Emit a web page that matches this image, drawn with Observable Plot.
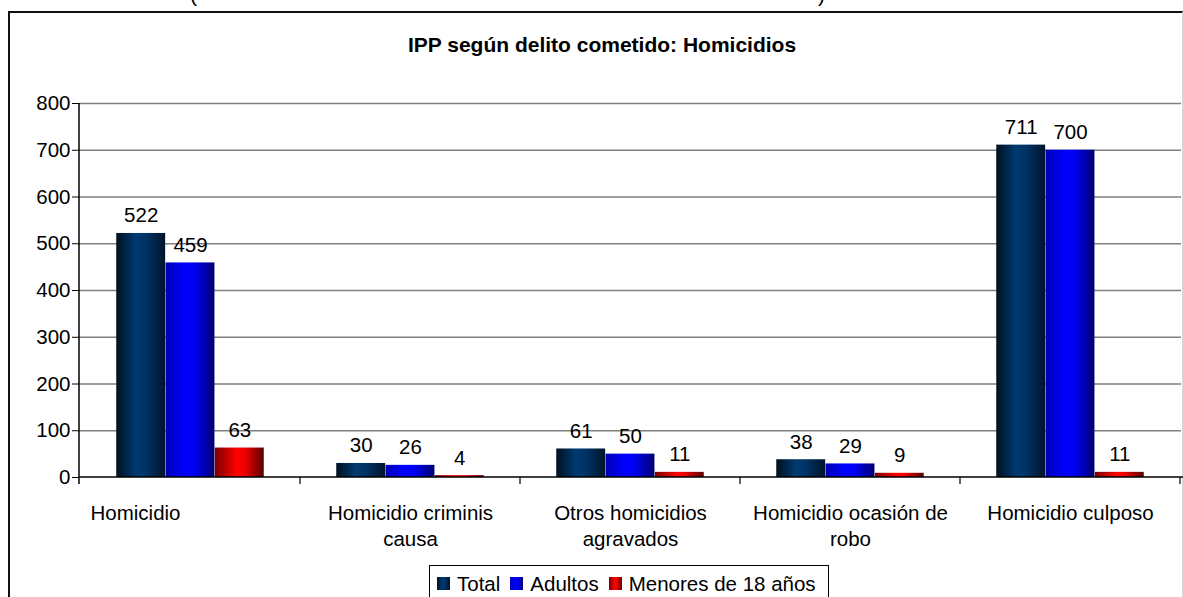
<!DOCTYPE html>
<html>
<head>
<meta charset="utf-8">
<script src="https://cdn.jsdelivr.net/npm/d3@7"></script>
<script src="https://cdn.jsdelivr.net/npm/@observablehq/plot@0.6"></script>
<style>
  html, body { margin: 0; padding: 0; background: #fff; overflow: hidden; }
  #wrap { position: relative; width: 1183px; height: 597px; overflow: hidden;
          font-family: "Liberation Sans", Arial, sans-serif; color: #000; }
  #box { position: absolute; left: 8px; top: 11px; width: 1172px; height: 620px;
         border-left: 2px solid #111; border-top: 2px solid #111; border-right: 1px solid #d8d8d8; }
  .paren { position: absolute; top: -16px; font-size: 21px; line-height: 21px; }
  #title { position: absolute; left: 0; width: 1204px; top: 34px; text-align: center;
           font-size: 21px; line-height: 21px; font-weight: bold; }
  #chart { position: absolute; left: 0; top: 0; }
  #legend { position: absolute; left: 429px; top: 565px; width: 400px; height: 40px;
            border: 1px solid #000; background: #fff; box-sizing: border-box;
            padding: 7px 0 0 7px; font-size: 20.5px; line-height: 21px; white-space: nowrap; }
  #legend .item { display: inline-block; margin-right: 10px; }
  #legend .sw { display: inline-block; width: 13px; height: 13px; margin-right: 7px; vertical-align: 1px; }
</style>
</head>
<body>
<div id="wrap">
  <div id="box"></div>
  <span class="paren" style="left:190px">(</span>
  <span class="paren" style="left:818px">)</span>
  <div id="title"></div>
  <div id="chart"></div>
  <div id="legend"></div>
</div>
<script>
// ---- data ----
const categories = ["Homicidio", "Homicidio criminis causa", "Otros homicidios agravados", "Homicidio ocasión de robo", "Homicidio culposo"];
const categoryLabels = ["Homicidio", "Homicidio criminis\ncausa", "Otros homicidios\nagravados", "Homicidio ocasión de\nrobo", "Homicidio culposo"];
const seriesNames = ["Total", "Adultos", "Menores de 18 años"];
const totalValues = [522, 30, 61, 38, 711];
const adultosValues = [459, 26, 50, 29, 700];
const menoresValues = [63, 4, 11, 9, 11];
const yTicks = [0, 100, 200, 300, 400, 500, 600, 700, 800];
const titleText = "IPP según delito cometido: Homicidios";

// ---- styling ----
const gradients = {
  "Total": ["g-total", [[0, "#00101f"], [0.4, "#003a70"], [0.6, "#003366"], [1, "#00142a"]]],
  "Adultos": ["g-adultos", [[0, "#0000b8"], [0.4, "#0000ff"], [0.6, "#0000f0"], [1, "#000070"]]],
  "Menores de 18 años": ["g-menores", [[0, "#7a0000"], [0.45, "#ff0000"], [0.6, "#f00000"], [1, "#5a0000"]]]
};
const font = "'Liberation Sans', Arial, sans-serif";

const rows = categories.flatMap((c, i) => [
  {cat: c, serie: seriesNames[0], value: totalValues[i]},
  {cat: c, serie: seriesNames[1], value: adultosValues[i]},
  {cat: c, serie: seriesNames[2], value: menoresValues[i]}
]);

const W = 1183, H = 597;
const mL = 79, mR = 2, mT = 103, mB = 120;
const band = (W - mL - mR) / categories.length;
const barW = 49.3;
const inset = (band - barW) / 2;
const offsets = [-barW, 0, barW];

function defsMark() {
  const defs = d3.create("svg:defs");
  for (const s of seriesNames) {
    const [id, stops] = gradients[s];
    const lg = defs.append("linearGradient").attr("id", id).attr("x1", 0).attr("x2", 1).attr("y1", 0).attr("y2", 0);
    for (const [o, c] of stops) lg.append("stop").attr("offset", o).attr("stop-color", c);
  }
  return defs.node();
}

function axisLines(index, scales) {
  const g = d3.create("svg:g").attr("stroke", "#000").attr("fill", "none");
  const x = scales.x, y = scales.y;
  const bw = x.bandwidth();
  const y0 = y(0);
  // y axis line
  g.append("line").attr("x1", mL).attr("x2", mL).attr("y1", y(800)).attr("y2", y0 + 7).attr("stroke-width", 1.5);
  // baseline
  g.append("line").attr("x1", mL).attr("x2", W).attr("y1", y0).attr("y2", y0).attr("stroke-width", 1.5);
  // category boundary ticks
  for (const c of categories) {
    const xx = x(c) + bw;
    g.append("line").attr("x1", xx).attr("x2", xx).attr("y1", y0).attr("y2", y0 + 7).attr("stroke-width", 1.2);
  }
  return g.node();
}

const marks = [defsMark];
marks.push(Plot.gridY(yTicks.filter(d => d > 0), {stroke: "#808080", strokeOpacity: 1, strokeWidth: 1.3}));
seriesNames.forEach((s, k) => {
  const data = rows.filter(r => r.serie === s);
  marks.push(Plot.barY(data, {x: "cat", y: "value", fill: `url(#${gradients[s][0]})`,
    insetLeft: inset, insetRight: inset, dx: offsets[k]}));
  marks.push(Plot.text(data, {x: "cat", y: "value", text: d => String(d.value), dx: offsets[k], dy: -11,
    lineAnchor: "bottom", fontSize: 20.5, fill: "#000"}));
});
marks.push(axisLines);
marks.push(Plot.axisY({ticks: yTicks, tickSize: 7, tickPadding: 2, fontSize: 20.5, label: null, stroke: "#000"}));
// category labels
marks.push(Plot.text(categories.slice(0, 1), {x: d => d, frameAnchor: "bottom",
  text: (d) => categoryLabels[categories.indexOf(d)], dy: 24, dx: -55, lineAnchor: "top",
  lineHeight: 1.27, fontSize: 20.5, fill: "#000"}));
marks.push(Plot.text(categories.slice(1), {x: d => d, frameAnchor: "bottom",
  text: (d) => categoryLabels[categories.indexOf(d)], dy: 24, lineAnchor: "top",
  lineHeight: 1.27, fontSize: 20.5, fill: "#000"}));

const chart = Plot.plot({
  width: W, height: H,
  marginLeft: mL, marginRight: mR, marginTop: mT, marginBottom: mB,
  style: {fontFamily: font, fontSize: "20.5px", color: "#000", background: "transparent", overflow: "visible"},
  x: {type: "band", domain: categories, padding: 0, axis: null},
  y: {domain: [0, 800], axis: null},
  marks
});
document.getElementById("chart").appendChild(chart);

document.getElementById("title").textContent = titleText;

const legend = d3.select("#legend");
for (const s of seriesNames) {
  const stops = gradients[s][1].map(([o, c]) => `${c} ${o * 100}%`).join(", ");
  const it = legend.append("span").attr("class", "item");
  it.append("span").attr("class", "sw").style("background", `linear-gradient(to right, ${stops})`);
  it.append("span").text(s);
}
</script>
</body>
</html>
